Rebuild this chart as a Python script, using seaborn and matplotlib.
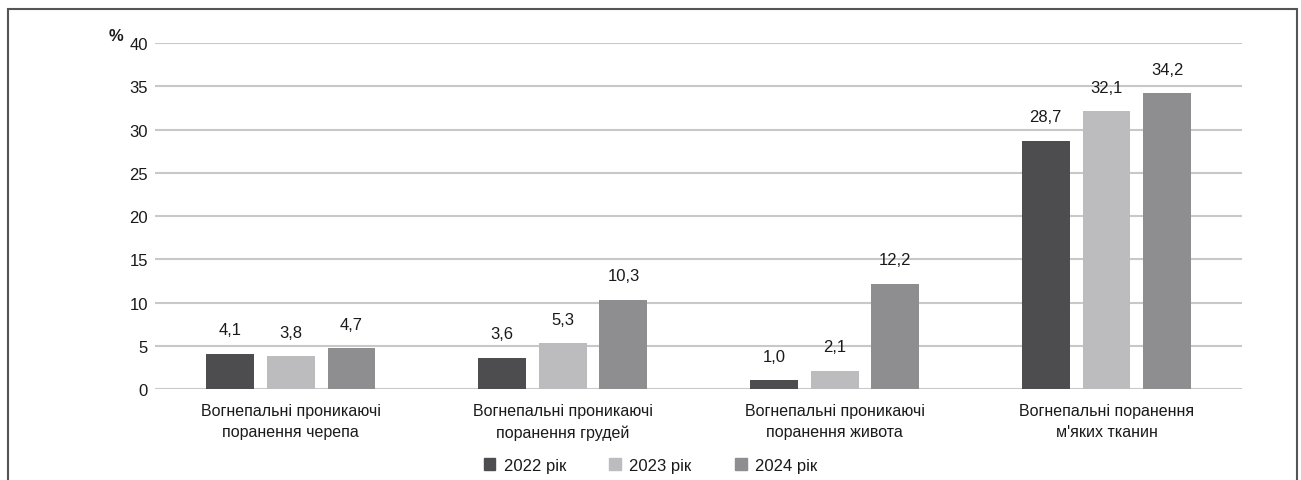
import pandas as pd
import matplotlib
matplotlib.use('Agg')
import matplotlib.pyplot as plt
import matplotlib.patches as mpatches
import seaborn as sns

# data
categories = ['Вогнепальні проникаючі\nпоранення черепа',
              'Вогнепальні проникаючі\nпоранення грудей',
              'Вогнепальні проникаючі\nпоранення живота',
              'Вогнепальні поранення\nм\'яких тканин']
years = ['2022 рік', '2023 рік', '2024 рік']
values_2022 = [4.1, 3.6, 1.0, 28.7]
values_2023 = [3.8, 5.3, 2.1, 32.1]
values_2024 = [4.7, 10.3, 12.2, 34.2]
y_ticks = [0, 5, 10, 15, 20, 25, 30, 35, 40]

colors = ['#4d4d4f', '#bcbcbe', '#8e8e90']
text_col = '#1a1a1a'

df = pd.DataFrame({
    'category': categories * 3,
    'year': [years[0]] * 4 + [years[1]] * 4 + [years[2]] * 4,
    'value': values_2022 + values_2023 + values_2024,
})

sns.set_style('white')
plt.rcParams['font.family'] = ['Liberation Sans', 'DejaVu Sans']

fig = plt.figure(figsize=(13.01, 4.81), dpi=100)
ax = fig.add_axes([0.119, 0.189, 0.836, 0.7195])

sns.barplot(data=df, x='category', y='value', hue='year', palette=colors,
            width=0.67, gap=0.21, saturation=1, errorbar=None, ax=ax,
            edgecolor='none', legend=False)

for cont in ax.containers:
    labels = [f'{v:.1f}'.replace('.', ',') for v in cont.datavalues]
    ax.bar_label(cont, labels=labels, padding=12, fontsize=12, color=text_col)

ax.set_ylim(0, 40)
ax.set_xlim(-0.5, 3.5)
ax.set_yticks(y_ticks)
ax.yaxis.grid(True, color='#c8c8c8', linewidth=1.5)
ax.set_axisbelow(True)
for s in ax.spines.values():
    s.set_visible(False)
ax.tick_params(axis='y', length=0, pad=5, labelsize=12, labelcolor=text_col)
ax.tick_params(axis='x', length=0, pad=10, labelsize=11.5, labelcolor=text_col)
for lab in ax.get_xticklabels():
    lab.set_linespacing(1.5)
ax.set_xlabel('')
ax.set_ylabel('')
ax.text(-0.029, 1.0, '%', transform=ax.transAxes, ha='right', va='bottom',
        fontsize=12, color=text_col, fontweight='bold')

handles = [mpatches.Patch(color=c, label=y) for c, y in zip(colors, years)]
fig.legend(handles=handles, loc='center', bbox_to_anchor=(0.5, 0.031), ncol=3,
           frameon=False, fontsize=12, handlelength=0.7, handleheight=0.7,
           columnspacing=2.6, handletextpad=0.5, labelcolor=text_col)

# outer frame around the figure
frame = mpatches.Rectangle((8 / 1301, -0.1), 1289 / 1301, 1.1 - 10 / 481,
                           transform=fig.transFigure, fill=False,
                           edgecolor='#555555', linewidth=1.5, clip_on=False)
fig.patches.append(frame)

plt.savefig('out.png', dpi=100)
